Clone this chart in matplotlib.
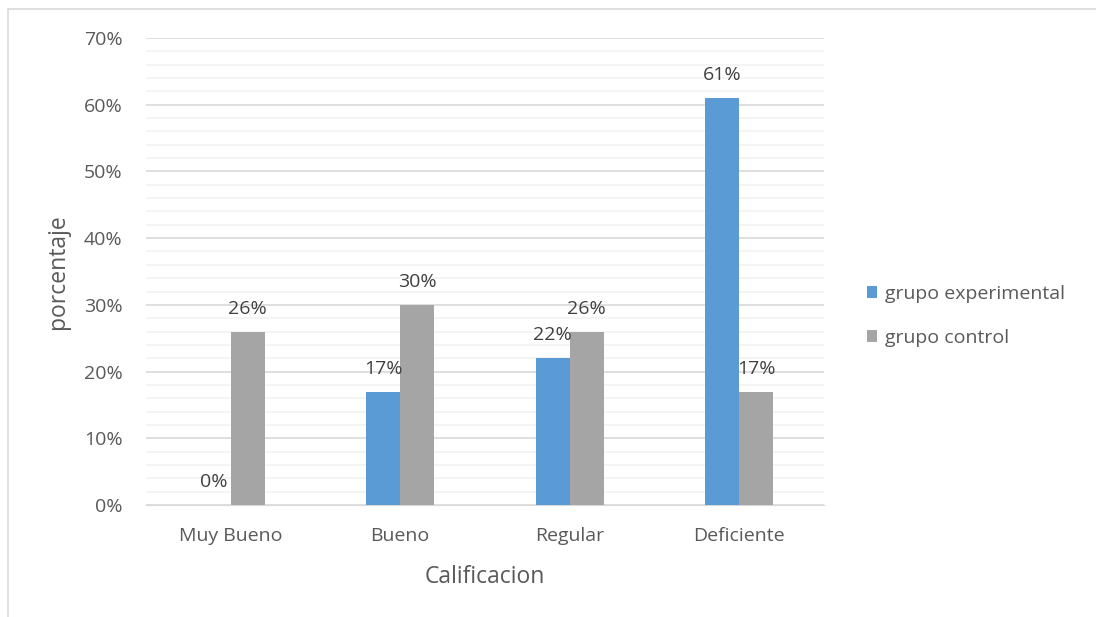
import numpy as np
import matplotlib.pyplot as plt
from matplotlib.ticker import MultipleLocator, PercentFormatter
from matplotlib.patches import Rectangle

categorias = ['Muy Bueno', 'Bueno', 'Regular', 'Deficiente']
experimental = [0, 17, 22, 61]
control = [26, 30, 26, 17]
series = ['grupo experimental', 'grupo control']

azul = '#5b9bd5'
gris = '#a5a5a5'
texto = '#595959'

plt.rcParams['font.family'] = ['Open Sans', 'DejaVu Sans']

fig = plt.figure(figsize=(10.96, 6.17), dpi=100)
ax = fig.add_axes([146/1096, 1 - 505/617, 678/1096, 467/617])

# marco exterior del grafico
fig.patches.append(Rectangle((8/1096, -0.1), 1.2, 1 - 9/617 + 0.1,
                             transform=fig.transFigure, fill=False,
                             edgecolor='#d9d9d9', linewidth=1.2))

x = np.arange(len(categorias))
w = 0.2
b1 = ax.bar(x - w/2, experimental, w, color=azul, label=series[0], zorder=3)
b2 = ax.bar(x + w/2, control, w, color=gris, label=series[1], zorder=3)

for bars, vals in ((b1, experimental), (b2, control)):
    for r, v in zip(bars, vals):
        ax.annotate(f'{v}%', (r.get_x() + r.get_width()/2, v),
                    xytext=(0, 10), textcoords='offset points',
                    ha='center', va='bottom', fontsize=14, color='#404040')

ax.set_xlim(-0.5, 3.5)
ax.set_ylim(0, 70)
ax.yaxis.set_major_locator(MultipleLocator(10))
ax.yaxis.set_minor_locator(MultipleLocator(2))
ax.yaxis.set_major_formatter(PercentFormatter(decimals=0))
ax.grid(axis='y', which='major', color='#d9d9d9', linewidth=1.2, zorder=0)
ax.grid(axis='y', which='minor', color='#f2f2f2', linewidth=1.2, zorder=0)
ax.set_xticks(x)
ax.set_xticklabels(categorias)
ax.tick_params(axis='both', which='both', length=0, labelsize=14,
               labelcolor=texto)
ax.tick_params(axis='y', pad=17)
ax.tick_params(axis='x', pad=16)
for s in ax.spines.values():
    s.set_visible(False)
ax.spines['bottom'].set_visible(True)
ax.spines['bottom'].set_color('#d9d9d9')

ax.set_xlabel('Calificacion', fontsize=16.5, color=texto, labelpad=14)
ax.set_ylabel('porcentaje', fontsize=16.5, color=texto, labelpad=10)

fig.legend(handles=[b1, b2], loc='center left',
           bbox_to_anchor=(849/1096, 1 - 316/617), frameon=False,
           fontsize=14, labelcolor=texto, handlelength=0.55, handleheight=0.55,
           handletextpad=0.4, labelspacing=1.35)

fig.savefig('out.png', dpi=100)
